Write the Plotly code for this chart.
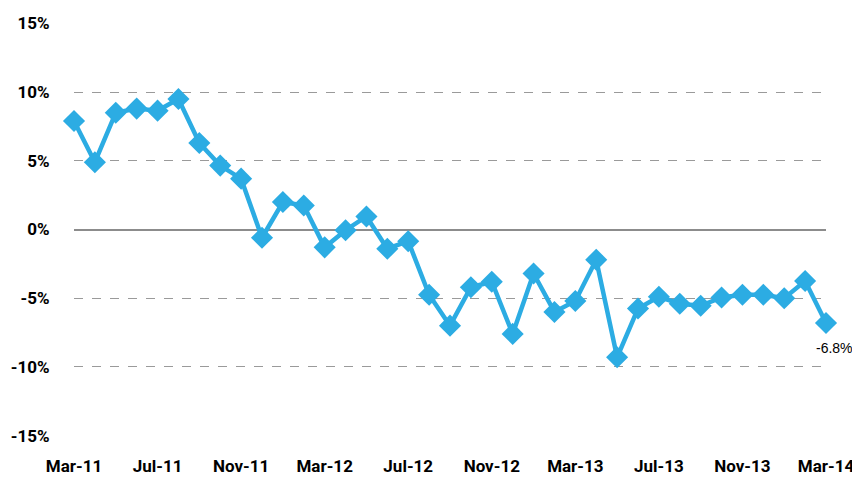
import plotly.graph_objects as go

months = ["Mar-11","Apr-11","May-11","Jun-11","Jul-11","Aug-11","Sep-11","Oct-11","Nov-11","Dec-11",
          "Jan-12","Feb-12","Mar-12","Apr-12","May-12","Jun-12","Jul-12","Aug-12","Sep-12","Oct-12",
          "Nov-12","Dec-12","Jan-13","Feb-13","Mar-13","Apr-13","May-13","Jun-13","Jul-13","Aug-13",
          "Sep-13","Oct-13","Nov-13","Dec-13","Jan-14","Feb-14","Mar-14"]
values = [7.9, 4.9, 8.5, 8.8, 8.65, 9.5, 6.3, 4.65, 3.7, -0.6,
          2.0, 1.75, -1.3, -0.05, 0.95, -1.4, -0.85, -4.75, -7.0, -4.2,
          -3.8, -7.6, -3.2, -6.0, -5.2, -2.2, -9.3, -5.75, -4.9, -5.4,
          -5.55, -4.95, -4.75, -4.75, -5.0, -3.75, -6.8]
x_ticks = ["Mar-11","Jul-11","Nov-11","Mar-12","Jul-12","Nov-12","Mar-13","Jul-13","Nov-13","Mar-14"]
y_ticks = [-15, -10, -5, 0, 5, 10, 15]
y_ticktext = ["-15%", "-10%", "-5%", "0%", "5%", "10%", "15%"]

FONT = "Roboto, Liberation Sans, sans-serif"
BLUE = "#2CACE3"

fig = go.Figure()
fig.add_trace(go.Scatter(
    x=months, y=values, mode="lines+markers",
    line=dict(color=BLUE, width=4.5),
    marker=dict(symbol="diamond", size=17, color=BLUE),
    cliponaxis=False,
    hoverinfo="skip", showlegend=False,
))
fig.add_annotation(x=months[-1], y=values[-1], text="-6.8%", showarrow=False,
                   xanchor="left", yanchor="top", yshift=-15, xshift=-12,
                   font=dict(family="Liberation Sans, Arial, sans-serif", size=14, color="#000"))

fig.update_layout(
    width=852, height=469,
    margin=dict(l=66, r=34, t=15, b=41),
    paper_bgcolor="white", plot_bgcolor="white",
    font=dict(family=FONT, size=17, color="#000"),
    xaxis=dict(type="category", range=[0, 36], tickvals=x_ticks, ticktext=x_ticks,
               showgrid=False, zeroline=False, showline=False, automargin=False,
               ticks="outside", ticklen=15, tickcolor="rgba(0,0,0,0)",
               tickfont=dict(family=FONT, size=17, color="#000", weight="bold")),
    yaxis=dict(range=[-15.03, 15.03], tickvals=y_ticks, ticktext=y_ticktext,
               showgrid=True, gridcolor="#9a9a9a", griddash="dash", gridwidth=1,
               zeroline=True, zerolinecolor="#8c8c8c", zerolinewidth=2,
               showline=False, automargin=False,
               ticks="outside", ticklen=20, tickcolor="rgba(0,0,0,0)",
               tickfont=dict(family=FONT, size=17, color="#000", weight="bold")),
)

fig.write_html("out.html")
